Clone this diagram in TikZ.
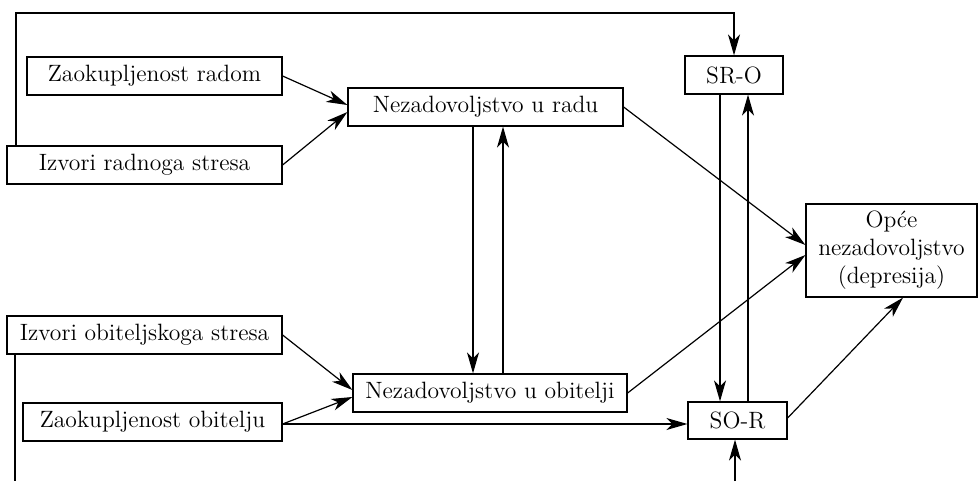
\documentclass[tikz,border=0pt]{standalone}
\usepackage{fontspec}
\usetikzlibrary{arrows.meta}

\begin{document}
\begin{tikzpicture}[x=0.5pt,y=-0.5pt,line width=0.6pt,
    box/.style={draw, inner sep=0pt, minimum height=19pt, font=\fontsize{11.8}{14}\selectfont},
    arr/.style={-{Stealth[length=10.5pt,width=6pt,inset=3pt]}}]

    \useasboundingbox (0,0) rectangle (978,481);

    % nodes (variables)
    \node[box, minimum width=127.5pt] (zr) at (154.5,76) {Zaokupljenost radom};
    \node[box, minimum width=137.5pt] (irs) at (144.5,165) {Izvori radnoga stresa};
    \node[box, minimum width=137.5pt] (nr) at (485.5,107) {Nezadovoljstvo u radu};
    \node[box, minimum width=49pt] (sro) at (734,75) {SR-O};
    \node[box, minimum width=85.5pt, minimum height=46.5pt, align=center] (opce) at (891.5,250.5) {Opće\\nezadovoljstvo\\(depresija)};
    \node[box, minimum width=137.5pt] (iob) at (144.5,335) {Izvori obiteljskoga stresa};
    \node[box, minimum width=129.5pt] (zo) at (152.5,422) {Zaokupljenost obitelju};
    \node[box, minimum width=137pt] (no) at (490,393) {Nezadovoljstvo u obitelji};
    \node[box, minimum width=49.5pt, minimum height=18.5pt] (sor) at (737.5,420.5) {SO-R};

    \coordinate (tl) at (16,13);
    \coordinate (bl) at (15,481);
    \coordinate (br) at (735,481);

	% edges
    \draw[arr] (zr.east) to ([yshift=1pt]nr.west); % zr -> nr
    \draw[arr] (irs.east) to ([yshift=-2.5pt]nr.west); % irs -> nr
    \draw[arr] (tl |- irs.north) -- (tl) -| (sro.north); % irs -> sro
    \draw[arr] ([xshift=-6.25pt]nr.south) to ([xshift=-6.25pt]nr.south |- no.north); % nr -> no
    \draw[arr] ([xshift=8.75pt]nr.south |- no.north) to ([xshift=8.75pt]nr.south); % no -> nr
    \draw[arr] (nr.east) to ([yshift=2.75pt]opce.west); % nr -> opce
    \draw[arr] (no.east) to ([yshift=-2.25pt]opce.west); % no -> opce
    \draw[arr] ([xshift=-7pt]sro.south) to ([xshift=-7pt]sro.south |- sor.north); % sro -> sor
    \draw[arr] ([xshift=7pt]sro.south |- sor.north) to ([xshift=7pt]sro.south); % sor -> sro
    \draw[arr] ([yshift=-1pt]zo.east) to ([yshift=-1pt]zo.east -| sor.west); % zo -> sor
    \draw[arr] ([yshift=-1pt]zo.east) to ([yshift=-2pt]no.west); % zo -> no
    \draw[arr] (iob.east) to ([yshift=1.5pt]no.west); % iob -> no
    \draw[arr] ([yshift=1.25pt]sor.east) to ([xshift=5.75pt]opce.south); % sor -> opce
    \draw (bl |- iob.south) to (bl); % iob -> (out)
    \draw[arr] (br) to (br |- sor.south); % (in) -> sor

\end{tikzpicture}
\end{document}
